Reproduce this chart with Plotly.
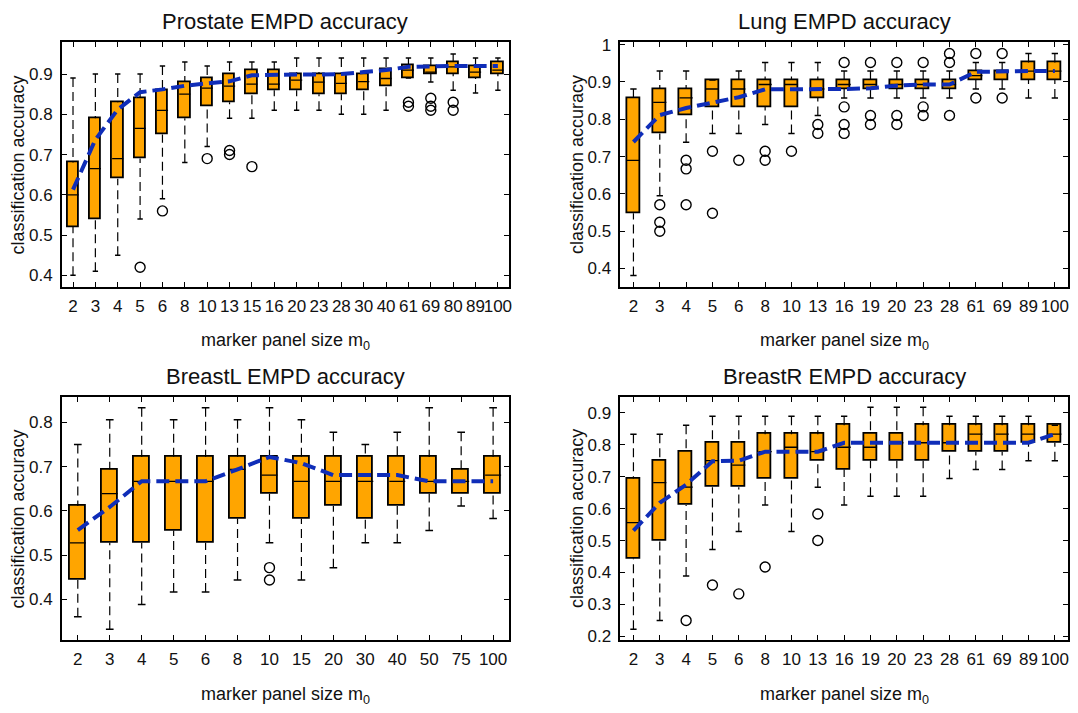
import plotly.graph_objects as go

# ---------------- Prostate ----------------
pro_cats = [2, 3, 4, 5, 6, 8, 10, 13, 15, 16, 20, 23, 28, 30, 40, 61, 69, 80, 89, 100]
pro_q1 = [0.52, 0.54, 0.64, 0.69, 0.75, 0.79, 0.82, 0.83, 0.85, 0.86, 0.86, 0.85, 0.85, 0.86, 0.87, 0.89, 0.90, 0.90, 0.89, 0.90]
pro_med = [0.60, 0.665, 0.69, 0.765, 0.81, 0.85, 0.865, 0.87, 0.875, 0.875, 0.885, 0.88, 0.877, 0.881, 0.889, 0.91, 0.905, 0.918, 0.905, 0.91]
pro_q3 = [0.68, 0.79, 0.83, 0.84, 0.86, 0.88, 0.89, 0.90, 0.91, 0.91, 0.90, 0.90, 0.90, 0.90, 0.912, 0.922, 0.92, 0.93, 0.92, 0.93]
pro_lo = [0.40, 0.41, 0.45, 0.54, 0.59, 0.68, 0.72, 0.79, 0.79, 0.81, 0.81, 0.81, 0.80, 0.80, 0.81, 0.89, 0.88, 0.86, 0.853, 0.86]
pro_hi = [0.89, 0.90, 0.90, 0.90, 0.92, 0.93, 0.92, 0.93, 0.93, 0.93, 0.94, 0.94, 0.94, 0.94, 0.94, 0.94, 0.94, 0.95, 0.94, 0.94]
pro_mean = [0.613, 0.737, 0.812, 0.855, 0.862, 0.871, 0.877, 0.882, 0.897, 0.899, 0.899, 0.899, 0.90, 0.905, 0.91, 0.918, 0.92, 0.92, 0.92, 0.92]
pro_out = [[], [], [], [0.42], [0.56], [], [0.69], [0.71, 0.70], [0.67], [], [], [], [], [], [],
           [0.83, 0.82], [0.84, 0.82, 0.81], [0.83, 0.81], [], []]

# ---------------- Lung ----------------
lung_cats = [2, 3, 4, 5, 6, 8, 10, 13, 16, 19, 20, 23, 28, 61, 69, 89, 100]
lung_q1 = [0.548, 0.762, 0.810, 0.833, 0.833, 0.833, 0.833, 0.857, 0.881, 0.881, 0.881, 0.881, 0.881, 0.905, 0.905, 0.905, 0.905]
lung_med = [0.690, 0.845, 0.857, 0.881, 0.881, 0.893, 0.893, 0.881, 0.893, 0.893, 0.893, 0.893, 0.893, 0.917, 0.929, 0.929, 0.929]
lung_q3 = [0.857, 0.881, 0.881, 0.905, 0.905, 0.905, 0.905, 0.905, 0.905, 0.905, 0.905, 0.905, 0.905, 0.929, 0.929, 0.952, 0.952]
lung_lo = [0.381, 0.595, 0.738, 0.762, 0.762, 0.786, 0.762, 0.810, 0.857, 0.857, 0.857, 0.857, 0.857, 0.881, 0.881, 0.857, 0.857]
lung_hi = [0.881, 0.929, 0.929, 0.905, 0.929, 0.952, 0.952, 0.952, 0.929, 0.929, 0.929, 0.929, 0.929, 0.952, 0.952, 0.976, 0.976]
lung_mean = [0.739, 0.811, 0.830, 0.845, 0.859, 0.880, 0.880, 0.881, 0.881, 0.883, 0.890, 0.893, 0.893, 0.927, 0.929, 0.929, 0.929]
lung_out = [[], [0.571, 0.524, 0.500], [0.690, 0.667, 0.571], [0.714, 0.548], [0.690], [0.714, 0.690],
            [0.714], [0.786, 0.762], [0.952, 0.833, 0.786, 0.762], [0.952, 0.810, 0.786],
            [0.952, 0.810, 0.786], [0.952, 0.833, 0.810], [0.976, 0.952, 0.810],
            [0.976, 0.857], [0.976, 0.857], [], []]

# ---------------- BreastL ----------------
bl_cats = [2, 3, 4, 5, 6, 8, 10, 15, 20, 30, 40, 50, 75, 100]
bl_q1 = [0.444, 0.528, 0.528, 0.556, 0.528, 0.583, 0.639, 0.583, 0.611, 0.583, 0.611, 0.639, 0.639, 0.639]
bl_med = [0.528, 0.639, 0.667, 0.667, 0.667, 0.694, 0.681, 0.667, 0.667, 0.667, 0.667, 0.667, 0.667, 0.681]
bl_q3 = [0.611, 0.694, 0.722, 0.722, 0.722, 0.722, 0.722, 0.722, 0.722, 0.722, 0.722, 0.722, 0.694, 0.722]
bl_lo = [0.361, 0.333, 0.389, 0.417, 0.417, 0.444, 0.528, 0.444, 0.472, 0.528, 0.528, 0.556, 0.611, 0.583]
bl_hi = [0.750, 0.806, 0.833, 0.806, 0.833, 0.806, 0.833, 0.806, 0.778, 0.750, 0.778, 0.833, 0.778, 0.833]
bl_mean = [0.557, 0.609, 0.667, 0.667, 0.667, 0.694, 0.722, 0.708, 0.681, 0.681, 0.681, 0.667, 0.667, 0.667]
bl_out = [[], [], [], [], [], [], [0.472, 0.444], [], [], [], [], [], [], []]

# ---------------- BreastR ----------------
br_cats = [2, 3, 4, 5, 6, 8, 10, 13, 16, 19, 20, 23, 28, 61, 69, 89, 100]
br_q1 = [0.444, 0.500, 0.611, 0.667, 0.667, 0.694, 0.694, 0.750, 0.722, 0.750, 0.750, 0.750, 0.778, 0.778, 0.778, 0.806, 0.806]
br_med = [0.556, 0.681, 0.667, 0.750, 0.736, 0.778, 0.792, 0.778, 0.792, 0.792, 0.806, 0.806, 0.806, 0.833, 0.833, 0.833, 0.833]
br_q3 = [0.694, 0.750, 0.778, 0.806, 0.806, 0.833, 0.833, 0.833, 0.861, 0.833, 0.833, 0.861, 0.861, 0.861, 0.861, 0.861, 0.861]
br_lo = [0.222, 0.250, 0.389, 0.472, 0.528, 0.611, 0.528, 0.667, 0.611, 0.639, 0.639, 0.639, 0.694, 0.722, 0.722, 0.750, 0.750]
br_hi = [0.833, 0.833, 0.861, 0.889, 0.889, 0.889, 0.889, 0.889, 0.889, 0.917, 0.917, 0.917, 0.889, 0.889, 0.889, 0.889, 0.861]
br_mean = [0.531, 0.618, 0.675, 0.748, 0.750, 0.778, 0.778, 0.778, 0.806, 0.806, 0.806, 0.806, 0.806, 0.806, 0.806, 0.806, 0.833]
br_out = [[], [], [0.25], [0.361], [0.333], [0.417], [], [0.583, 0.500], [], [], [], [], [], [], [], [], []]

titles = ["Prostate EMPD accuracy", "Lung EMPD accuracy", "BreastL EMPD accuracy", "BreastR EMPD accuracy"]
y_ticks_list = [[0.4, 0.5, 0.6, 0.7, 0.8, 0.9],
                [0.4, 0.5, 0.6, 0.7, 0.8, 0.9, 1.0],
                [0.4, 0.5, 0.6, 0.7, 0.8],
                [0.2, 0.3, 0.4, 0.5, 0.6, 0.7, 0.8, 0.9]]
y_ranges = [[0.3715, 0.9788], [0.351, 1.006], [0.308, 0.858], [0.188, 0.950]]

panels = [
    (pro_cats, pro_q1, pro_med, pro_q3, pro_lo, pro_hi, pro_mean, pro_out),
    (lung_cats, lung_q1, lung_med, lung_q3, lung_lo, lung_hi, lung_mean, lung_out),
    (bl_cats, bl_q1, bl_med, bl_q3, bl_lo, bl_hi, bl_mean, bl_out),
    (br_cats, br_q1, br_med, br_q3, br_lo, br_hi, br_mean, br_out),
]

W, H = 1078, 713
# pixel boxes of the four plot areas (left, right, top, bottom)
px_boxes = [(62, 510.5, 36, 285), (622, 1071, 36, 285), (62, 510.5, 397, 645), (622, 1071, 397, 645)]

ORANGE = "#FFA500"
BLUE = "#0F2DB8"
FONT = "Liberation Sans, Arial, Helvetica, sans-serif"
TXT = "#111111"

fig = go.Figure()
annotations = []
BOXW = 0.25
CAPW = 0.12

for k, (cats, q1, med, q3, lo, hi, mean, outs) in enumerate(panels):
    ax = "" if k == 0 else str(k + 1)
    xr, yr = "x" + ax, "y" + ax
    idx = list(range(len(cats)))

    # whiskers (dashed), drawn from cap towards box
    wx, wy = [], []
    for i in idx:
        wx += [i, i, None, i, i, None]
        wy += [hi[i], q3[i], None, lo[i], q1[i], None]
    fig.add_trace(go.Scatter(x=wx, y=wy, mode="lines", xaxis=xr, yaxis=yr,
                             line=dict(color="black", width=1.2, dash="9px,5px"),
                             hoverinfo="skip", showlegend=False))
    # caps
    cx, cy = [], []
    for i in idx:
        cx += [i - CAPW, i + CAPW, None, i - CAPW, i + CAPW, None]
        cy += [hi[i], hi[i], None, lo[i], lo[i], None]
    fig.add_trace(go.Scatter(x=cx, y=cy, mode="lines", xaxis=xr, yaxis=yr,
                             line=dict(color="black", width=1.5),
                             hoverinfo="skip", showlegend=False))
    # boxes
    fig.add_trace(go.Bar(x=idx, y=[q3[i] - q1[i] for i in idx], base=q1, width=2 * BOXW,
                         xaxis=xr, yaxis=yr, marker=dict(color=ORANGE, line=dict(color="black", width=1.8)),
                         hoverinfo="skip", showlegend=False))
    # medians
    mx, my = [], []
    for i in idx:
        mx += [i - BOXW, i + BOXW, None]
        my += [med[i], med[i], None]
    fig.add_trace(go.Scatter(x=mx, y=my, mode="lines", xaxis=xr, yaxis=yr,
                             line=dict(color="black", width=1.3),
                             hoverinfo="skip", showlegend=False))
    # outliers
    ox, oy = [], []
    for i in idx:
        for v in outs[i]:
            ox.append(i)
            oy.append(v)
    fig.add_trace(go.Scatter(x=ox, y=oy, mode="markers", xaxis=xr, yaxis=yr,
                             marker=dict(symbol="circle-open", size=10, color="black", line=dict(width=1.4)),
                             hoverinfo="skip", showlegend=False))
    # mean line
    fig.add_trace(go.Scatter(x=idx, y=mean, mode="lines", xaxis=xr, yaxis=yr,
                             line=dict(color=BLUE, width=4, dash="13px,6px"),
                             hoverinfo="skip", showlegend=False))

    l, r, t, b = px_boxes[k]
    common = dict(showgrid=False, zeroline=False, showline=True, linecolor="black", linewidth=1.5,
                  mirror="ticks", ticks="inside", ticklen=5, tickwidth=1, tickcolor="black",
                  tickfont=dict(family=FONT, size=17, color=TXT))
    fig.update_layout(**{
        "xaxis" + ax: dict(domain=[l / W, r / W], range=[-0.5, len(cats) - 0.5], anchor=yr,
                           tickmode="array", tickvals=idx, ticktext=[str(c) for c in cats],
                           tickangle=0, ticklabelstandoff=3, **common),
        "yaxis" + ax: dict(domain=[1 - b / H, 1 - t / H], range=y_ranges[k], anchor=xr,
                           tickmode="array", tickvals=y_ticks_list[k],
                           ticktext=[("%g" % v) for v in y_ticks_list[k]],
                           ticklabelstandoff=4, **common),
    })
    cxp = (l + r) / 2
    annotations.append(dict(text=titles[k], x=cxp / W, y=1 - (t - 21) / H, xref="paper", yref="paper",
                            xanchor="center", yanchor="middle", showarrow=False,
                            font=dict(family=FONT, size=22, color=TXT)))
    annotations.append(dict(text="marker panel size m<sub>0</sub>", x=cxp / W, y=1 - (b + 56) / H,
                            xref="paper", yref="paper", xanchor="center", yanchor="middle",
                            showarrow=False, font=dict(family=FONT, size=18, color=TXT)))
    annotations.append(dict(text="classification accuracy", x=(l - 44) / W, y=1 - ((t + b) / 2) / H,
                            xref="paper", yref="paper", xanchor="center", yanchor="middle",
                            textangle=-90, showarrow=False, font=dict(family=FONT, size=18, color=TXT)))

fig.update_layout(width=W, height=H, autosize=False, margin=dict(l=0, r=0, t=0, b=0),
                  plot_bgcolor="white", paper_bgcolor="white", annotations=annotations,
                  bargap=0, showlegend=False)

fig.write_html("out.html")
